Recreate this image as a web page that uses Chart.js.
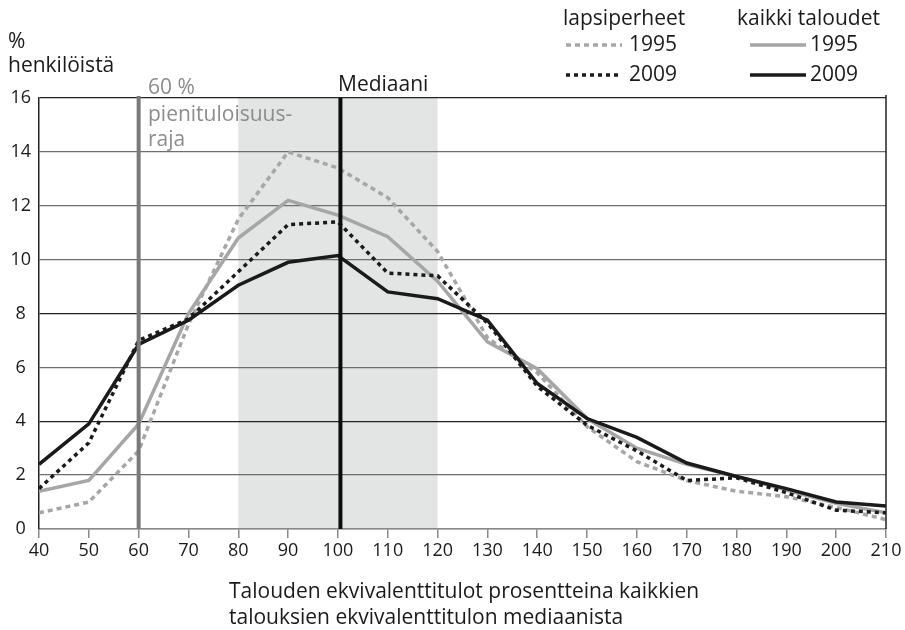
<!DOCTYPE html>
<html>
<head>
<meta charset="utf-8">
<script src="https://cdn.jsdelivr.net/npm/chart.js@4.4.0/dist/chart.umd.min.js"></script>
<style>
html,body{margin:0;padding:0;background:#fff;}
#wrap{width:905px;height:630px;position:relative;}
</style>
</head>
<body>
<div id="wrap"><canvas id="c" width="905" height="630"></canvas></div>
<script>
// Income levels (% of median equivalent income)
const incomeLevels = [40,50,60,70,80,90,100,110,120,130,140,150,160,170,180,190,200,210];
// Share of persons (%)
const lapsiperheet1995 = [0.6,1.0,2.9,7.6,11.5,14.0,13.4,12.3,10.3,7.1,5.8,3.8,2.5,1.8,1.4,1.2,0.8,0.35];
const lapsiperheet2009 = [1.5,3.2,7.0,7.8,9.55,11.3,11.4,9.5,9.4,7.65,5.3,3.85,2.9,1.8,1.9,1.35,0.7,0.6];
const kaikki1995 = [1.4,1.8,3.9,8.0,10.8,12.2,11.65,10.85,9.2,6.95,5.95,4.1,3.0,2.4,1.95,1.45,0.95,0.6];
const kaikki2009 = [2.4,3.9,6.85,7.75,9.05,9.9,10.15,8.8,8.55,7.75,5.4,4.1,3.4,2.45,1.95,1.5,1.0,0.85];
const yTicks = [0,2,4,6,8,10,12,14,16];
const povertyLine = 60;
const medianLine = 100.5;
const shadeRange = [80,120];

const FONT = '"Open Sans", "Noto Sans", sans-serif';
const BLACK = '#1a1a1a';
const GREY = '#a6a6a6';

function pts(arr){ return incomeLevels.map((x,i)=>({x:x,y:arr[i]})); }

const decor = {
  id:'decor',
  beforeDraw(chart){
    const {ctx, chartArea:a, scales:{x}} = chart;
    ctx.save();
    ctx.fillStyle = '#e3e4e4';
    const x0 = x.getPixelForValue(shadeRange[0]), x1 = x.getPixelForValue(shadeRange[1]);
    ctx.fillRect(x0, a.top, x1-x0, a.bottom-a.top);
    ctx.restore();
  },
  afterDatasetsDraw(chart){
    const {ctx, chartArea:a, scales:{x}} = chart;
    ctx.save();
    let px = x.getPixelForValue(povertyLine);
    ctx.strokeStyle = '#7a7a7a'; ctx.lineWidth = 4;
    ctx.beginPath(); ctx.moveTo(px, a.top-2); ctx.lineTo(px, a.bottom); ctx.stroke();
    px = x.getPixelForValue(medianLine);
    ctx.strokeStyle = '#0d0d0d'; ctx.lineWidth = 4;
    ctx.beginPath(); ctx.moveTo(px, a.top); ctx.lineTo(px, a.bottom); ctx.stroke();
    ctx.strokeStyle = '#222'; ctx.lineWidth = 1.5;
    ctx.beginPath(); ctx.moveTo(a.right, a.top-3); ctx.lineTo(a.right, a.bottom); ctx.stroke();
    ctx.restore();
  },
  afterDraw(chart){
    const {ctx} = chart;
    ctx.save();
    ctx.textBaseline = 'alphabetic';
    ctx.textAlign = 'left';
    ctx.font = '21px ' + FONT;
    ctx.fillStyle = BLACK;
    ctx.fillText('%', 8, 48);
    ctx.fillText('henkilöistä', 8, 72);
    ctx.fillText('Mediaani', 338, 91);
    ctx.fillStyle = '#8c8c8c';
    ctx.fillText('60 %', 148, 94);
    ctx.fillText('pienituloisuus-', 148, 121);
    ctx.fillText('raja', 148, 146);
    ctx.fillStyle = BLACK;
    ctx.fillText('lapsiperheet', 563, 25);
    ctx.fillText('kaikki taloudet', 737, 25);
    ctx.fillText('1995', 629, 51);
    ctx.fillText('2009', 629, 81);
    ctx.fillText('1995', 810, 51);
    ctx.fillText('2009', 810, 81);
    const seg = (x0,x1,y,color,w,dash)=>{
      ctx.strokeStyle = color; ctx.lineWidth = w; ctx.setLineDash(dash);
      ctx.beginPath(); ctx.moveTo(x0,y); ctx.lineTo(x1,y); ctx.stroke();
    };
    seg(566,622,45,GREY,3.5,[5,4]);
    seg(566,622,75,BLACK,3.5,[4,4]);
    seg(750,806,45,GREY,3.5,[]);
    seg(750,806,75,BLACK,3.5,[]);
    ctx.setLineDash([]);
    ctx.fillStyle = BLACK;
    ctx.fillText('Talouden ekvivalenttitulot prosentteina kaikkien', 229, 598);
    ctx.fillText('talouksien ekvivalenttitulon mediaanista', 229, 624);
    ctx.restore();
  }
};

new Chart(document.getElementById('c'), {
  type:'line',
  data:{
    datasets:[
      {label:'kaikki taloudet 2009', data:pts(kaikki2009), borderColor:BLACK, borderWidth:3.5, pointRadius:0, tension:0},
      {label:'lapsiperheet 2009', data:pts(lapsiperheet2009), borderColor:BLACK, borderWidth:3.5, borderDash:[4,4], pointRadius:0, tension:0},
      {label:'kaikki taloudet 1995', data:pts(kaikki1995), borderColor:GREY, borderWidth:3.5, pointRadius:0, tension:0},
      {label:'lapsiperheet 1995', data:pts(lapsiperheet1995), borderColor:GREY, borderWidth:3.5, borderDash:[5,4], pointRadius:0, tension:0}
    ]
  },
  options:{
    responsive:false,
    animation:false,
    devicePixelRatio:1,
    layout:{padding:{top:98,right:19,left:0,bottom:0}},
    plugins:{legend:{display:false}, tooltip:{enabled:false}, title:{display:false}},
    scales:{
      x:{
        type:'linear', min:40, max:210,
        afterBuildTicks(s){ s.ticks = incomeLevels.map(v=>({value:v})); },
        ticks:{color:BLACK, font:{family:FONT,size:18}, padding:2, maxRotation:0, autoSkip:false},
        grid:{drawOnChartArea:false, drawTicks:true, tickLength:9, color:'#8a8a8a', lineWidth:1.5},
        border:{color:'#8a8a8a', width:1.5},
        afterFit(s){ s.height = 101; }
      },
      y:{
        min:0, max:16,
        afterBuildTicks(s){ s.ticks = yTicks.map(v=>({value:v})); },
        ticks:{color:BLACK, font:{family:FONT,size:18}, crossAlign:'center', padding:8},
        grid:{drawTicks:false, lineWidth:1.3, color:(c)=>{ const v=c.tick&&c.tick.value; return (v===4||v===8||v===16)?'#222':'#6e6e6e'; }},
        border:{color:'#222', width:1.5},
        afterFit(s){ s.width = 39; }
      }
    }
  },
  plugins:[decor]
});
</script>
</body>
</html>
